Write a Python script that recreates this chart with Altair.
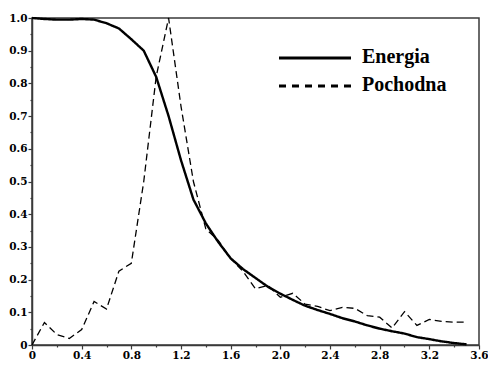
import altair as alt
import pandas as pd

x_vals = [0.0, 0.1, 0.2, 0.3, 0.4, 0.5, 0.6, 0.7, 0.8, 0.9,
          1.0, 1.1, 1.2, 1.3, 1.4, 1.5, 1.6, 1.7, 1.8, 1.9,
          2.0, 2.1, 2.2, 2.3, 2.4, 2.5, 2.6, 2.7, 2.8, 2.9,
          3.0, 3.1, 3.2, 3.3, 3.4, 3.5]
energia = [1.0, 0.997, 0.995, 0.995, 0.997, 0.995, 0.984, 0.968, 0.935, 0.900,
           0.82, 0.70, 0.565, 0.445, 0.372, 0.315, 0.265, 0.232, 0.205, 0.178,
           0.157, 0.138, 0.12, 0.107, 0.095, 0.082, 0.072, 0.06, 0.05, 0.042,
           0.035, 0.024, 0.018, 0.011, 0.006, 0.002]
pochodna = [0.0, 0.069, 0.032, 0.02, 0.047, 0.133, 0.11, 0.226, 0.25, 0.50,
            0.82, 1.0, 0.73, 0.50, 0.355, 0.32, 0.265, 0.225, 0.172, 0.182,
            0.146, 0.158, 0.125, 0.118, 0.105, 0.115, 0.112, 0.09, 0.085, 0.052,
            0.102, 0.06, 0.078, 0.072, 0.07, 0.07]
series_names = ["Energia", "Pochodna"]
x_ticks = [0.0, 0.2, 0.4, 0.6, 0.8, 1.0, 1.2, 1.4, 1.6, 1.8, 2.0, 2.2, 2.4,
           2.6, 2.8, 3.0, 3.2, 3.4, 3.6]
y_ticks = [0.0, 0.05, 0.1, 0.15, 0.2, 0.25, 0.3, 0.35, 0.4, 0.45, 0.5,
           0.55, 0.6, 0.65, 0.7, 0.75, 0.8, 0.85, 0.9, 0.95, 1.0]

n = len(x_vals)
df = pd.DataFrame({
    "x": x_vals + x_vals,
    "y": energia + pochodna,
    "s": [series_names[0]] * n + [series_names[1]] * n,
})

AX_COLOR = "#3a3a3a"
TICK_FONT = "DejaVu Serif"
LEG_FONT = "Liberation Serif"

x_axis = alt.Axis(
    values=x_ticks,
    title=None,
    grid=False,
    tickSize={"condition": {"test": "round(datum.value*10) % 4 == 0", "value": 4}, "value": 2},
    labelExpr="round(datum.value*10) % 4 == 0 ? (datum.value == 0 ? '0' : format(datum.value, '.1f')) : ''",
    labelPadding=1,
)
y_axis = alt.Axis(
    values=y_ticks,
    title=None,
    grid=False,
    tickSize={"condition": {"test": "round(datum.value*100) % 10 == 0", "value": 4}, "value": 2},
    labelExpr="round(datum.value*100) % 10 == 0 ? (datum.value == 0 ? '0' : format(datum.value, '.1f')) : ''",
    labelPadding=1,
)

lines = alt.Chart(df).mark_line(color="black").encode(
    x=alt.X("x:Q", scale=alt.Scale(domain=[0, 3.6], nice=False, zero=False), axis=x_axis),
    y=alt.Y("y:Q", scale=alt.Scale(domain=[0, 1.0], nice=False), axis=y_axis),
    strokeDash=alt.StrokeDash("s:N", scale=alt.Scale(domain=series_names, range=[[1, 0], [7, 4]]), legend=None),
    strokeWidth=alt.StrokeWidth("s:N", scale=alt.Scale(domain=series_names, range=[2.4, 1.3]), legend=None),
)

legend_layers = []
legend_line_y = [40, 68]
legend_text_y = [44.5, 72.5]
legend_dash = [[1, 0], [7, 6]]
for i, name in enumerate(series_names):
    ldf = pd.DataFrame({"s": [name]})
    legend_layers.append(
        alt.Chart(ldf).mark_rule(color="black", strokeWidth=3.2, strokeDash=legend_dash[i]).encode(
            x=alt.value(247), x2=alt.value(319), y=alt.value(legend_line_y[i])
        )
    )
    legend_layers.append(
        alt.Chart(ldf).mark_text(
            align="left", baseline="alphabetic", font=LEG_FONT,
            fontWeight="bold", fontSize=20, color="black"
        ).encode(text="s:N", x=alt.value(330), y=alt.value(legend_text_y[i]))
    )

chart = alt.layer(lines, *legend_layers).properties(
    width=447,
    height=327,
    autosize=alt.AutoSizeParams(type="none"),
    padding={"left": 24, "top": 10, "right": 9, "bottom": 15},
    background="white",
).configure_view(
    stroke=AX_COLOR,
    strokeWidth=1.5,
).configure_axis(
    domainColor=AX_COLOR,
    domainWidth=1.5,
    tickColor=AX_COLOR,
    tickWidth=1.2,
    labelFont=TICK_FONT,
    labelFontWeight="bold",
    labelFontSize=10.5,
    labelColor="black",
    labelOverlap=False,
    labelFlush=False,
).configure_text(
    font=LEG_FONT,
)

chart.save("out.html", embed_options={"renderer": "svg", "actions": False})
